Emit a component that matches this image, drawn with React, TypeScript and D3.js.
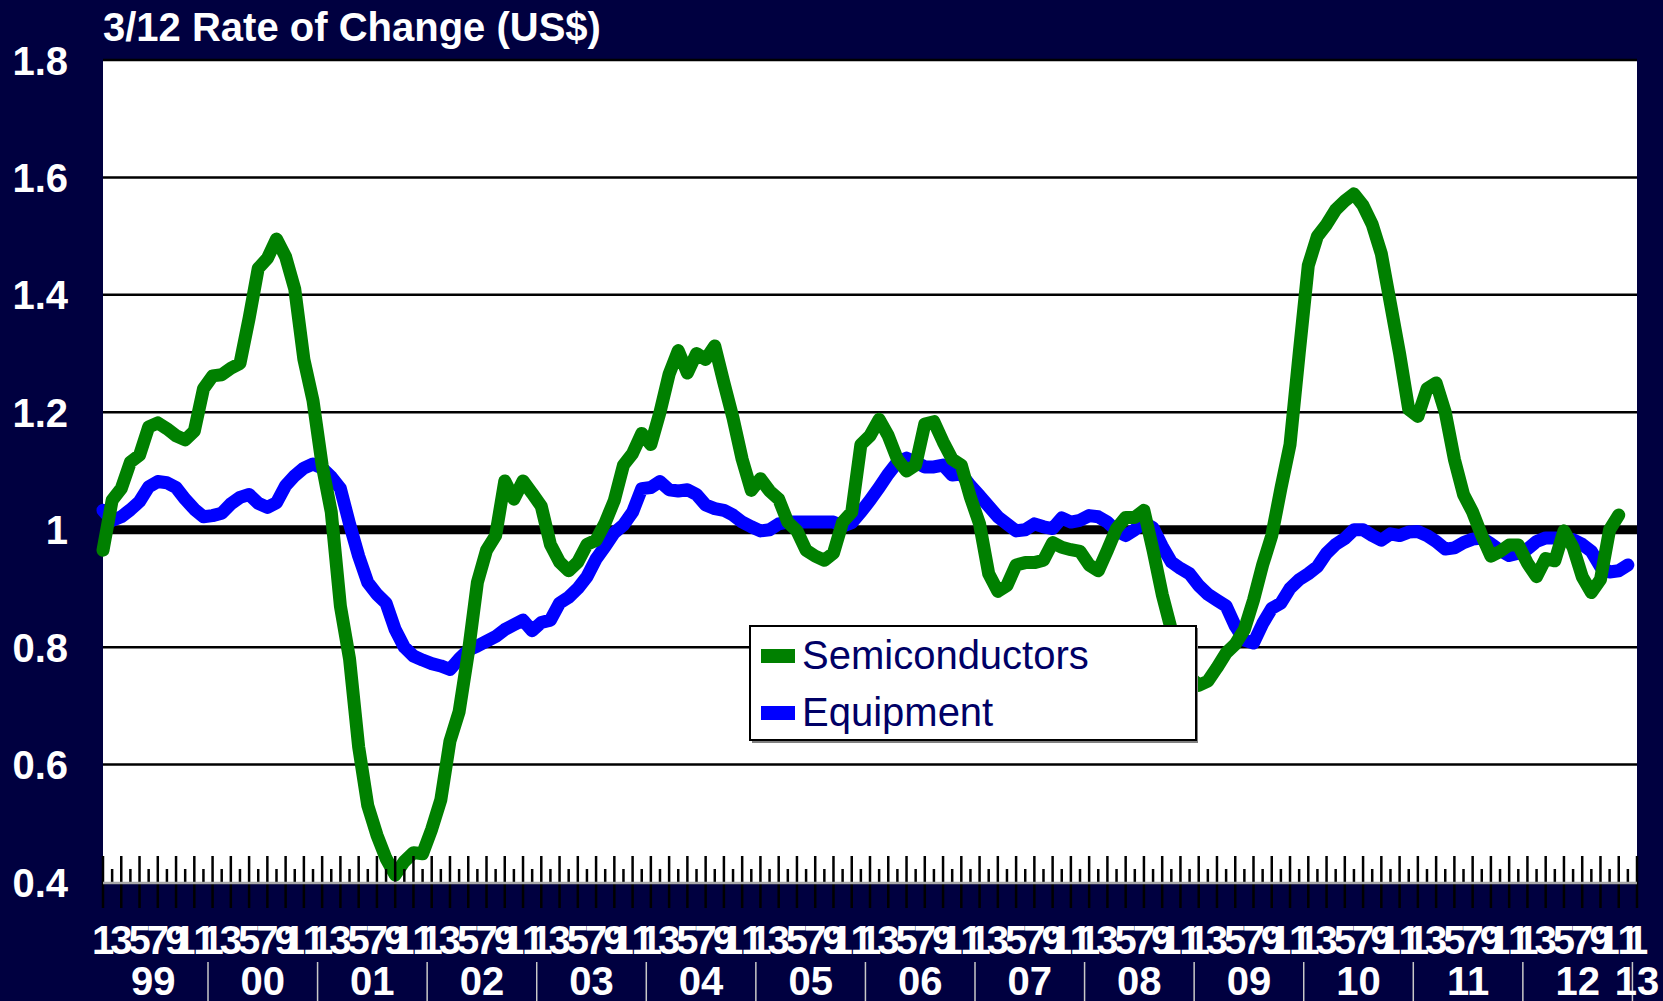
import React from "react";
import * as d3 from "d3";

const years = ["99", "00", "01", "02", "03", "04", "05", "06", "07", "08", "09", "10", "11", "12", "13"];
const monthNumbers = ["1", "2", "3", "4", "5", "6", "7", "8", "9", "10", "11", "12"];
const monthTickLabels = ["1", "3", "5", "7", "9", "11"];
const yTicks = [0.4, 0.6, 0.8, 1.0, 1.2, 1.4, 1.6, 1.8];
const yTickLabels = ["0.4", "0.6", "0.8", "1", "1.2", "1.4", "1.6", "1.8"];
const seriesNames = ["Semiconductors", "Equipment"];
const seriesColors = ["#008000", "#0000FF"];

// Jan 1999 .. Jan 2013
const categories = years.flatMap((y) => monthNumbers.map((m) => `${m}/${y}`)).slice(0, 169);

const semiconductors = [
  0.965, 1.05, 1.07, 1.115, 1.127, 1.175, 1.182, 1.172, 1.16, 1.153,
  1.168, 1.24, 1.262, 1.264, 1.275, 1.283, 1.36, 1.445, 1.462, 1.495,
  1.465, 1.41, 1.29, 1.22, 1.11, 1.03, 0.87, 0.78, 0.63, 0.53,
  0.48, 0.44, 0.412, 0.435, 0.45, 0.448, 0.49, 0.54, 0.64, 0.69,
  0.79, 0.91, 0.965, 0.99, 1.083, 1.052, 1.083, 1.062, 1.04, 0.975,
  0.945, 0.93, 0.945, 0.975, 0.982, 1.012, 1.05, 1.11, 1.13, 1.164,
  1.145, 1.2, 1.265, 1.305, 1.267, 1.3, 1.29, 1.313, 1.25, 1.19,
  1.12, 1.067, 1.087, 1.066, 1.052, 1.013, 0.998, 0.965, 0.955, 0.948,
  0.96, 1.013, 1.03, 1.145, 1.16, 1.188, 1.16, 1.12, 1.1, 1.11,
  1.18, 1.184, 1.15, 1.12, 1.11, 1.055, 1.01, 0.925, 0.895, 0.905,
  0.94, 0.944, 0.944, 0.948, 0.978, 0.97, 0.966, 0.963, 0.94, 0.93,
  0.965, 1.002, 1.021, 1.021, 1.033, 0.965, 0.89, 0.83, 0.78, 0.75,
  0.735, 0.742, 0.765, 0.79, 0.805, 0.83, 0.88, 0.94, 0.99, 1.07,
  1.145, 1.3, 1.45, 1.5, 1.52, 1.545, 1.56, 1.572, 1.552, 1.52,
  1.47, 1.385, 1.3, 1.205, 1.193, 1.24, 1.25, 1.2, 1.12, 1.06,
  1.03, 0.99, 0.955, 0.963, 0.974, 0.974, 0.943, 0.92, 0.951, 0.947,
  0.998, 0.97, 0.92, 0.893, 0.915, 1.0, 1.025,
];

const equipment = [
  1.033, 1.016, 1.022, 1.034, 1.048, 1.073, 1.082, 1.08, 1.072, 1.052,
  1.035, 1.022, 1.024, 1.028, 1.044, 1.055, 1.06, 1.045, 1.038, 1.046,
  1.075, 1.092, 1.105, 1.112, 1.105, 1.09, 1.07, 1.01, 0.955, 0.91,
  0.89, 0.875, 0.83, 0.8, 0.785, 0.778, 0.772, 0.768, 0.762, 0.78,
  0.795, 0.802, 0.81, 0.818, 0.83, 0.838, 0.846, 0.828, 0.842, 0.846,
  0.875, 0.885, 0.9, 0.92, 0.95, 0.972, 0.995, 1.008, 1.03, 1.07,
  1.072, 1.082, 1.068, 1.066, 1.068, 1.06, 1.042, 1.036, 1.033, 1.025,
  1.013, 1.005, 0.998, 1.0, 1.01, 1.013, 1.013, 1.013, 1.013, 1.013,
  1.013, 1.006, 1.012, 1.03, 1.05, 1.072, 1.095, 1.115, 1.122, 1.115,
  1.107, 1.107, 1.11, 1.093, 1.095, 1.075, 1.058, 1.04, 1.022, 1.01,
  0.998, 1.0, 1.01, 1.005, 1.002, 1.02, 1.013, 1.016, 1.024, 1.022,
  1.013, 0.998, 0.99, 1.0, 1.012, 1.003, 0.972, 0.945, 0.934, 0.925,
  0.905, 0.89, 0.88, 0.87, 0.836, 0.812, 0.807, 0.84, 0.866, 0.875,
  0.9, 0.915, 0.925, 0.937, 0.96, 0.975, 0.985, 1.0, 1.0, 0.99,
  0.982, 0.993, 0.99, 0.996, 0.997, 0.99, 0.98, 0.967, 0.969, 0.978,
  0.984, 0.986, 0.976, 0.965, 0.956, 0.96, 0.967, 0.98, 0.986, 0.986,
  0.985, 0.983, 0.975, 0.963, 0.937, 0.928, 0.93, 0.94,
];

const W = 1663;
const H = 1001;
const BG = "#000040";
const FONT = "'Liberation Sans', Arial, Helvetica, sans-serif";

export default function App() {
  const plotL = 103;
  const plotR = 1637;
  const plotT = 60;
  const plotB = 882;

  const x = d3.scalePoint<number>().domain(d3.range(categories.length)).range([plotL, plotR]);
  const y = d3.scaleLinear().domain([0.4, 1.8]).range([plotB, plotT]);

  const line = d3
    .line<number>()
    .x((_, i) => x(i) as number)
    .y((d) => y(d));

  const idx = d3.range(categories.length);

  const groups = years.map((yr, j) => {
    const first = j * 12;
    const last = Math.min(j * 12 + 11, categories.length - 1);
    return { yr, cx: ((x(first) as number) + (x(last) as number)) / 2 };
  });
  const separators = years.slice(0, -1).map((_, j) => {
    const a = j * 12 + 11;
    return ((x(a) as number) + (x(a + 1) as number)) / 2;
  });

  return (
    <svg
      width={W}
      height={H}
      style={{ position: "absolute", left: 0, top: 0, display: "block" }}
      fontFamily={FONT}
    >
      <rect x={0} y={0} width={W} height={H} fill={BG} />
      <text x={103} y={41} fill="#fff" fontSize={40} fontWeight="bold">
        3/12 Rate of Change (US$)
      </text>

      <rect x={plotL} y={plotT} width={plotR - plotL} height={plotB - plotT} fill="#fff" />

      {yTicks.map((t) =>
        t === 0.4 || t === 1.0 ? null : (
          <line key={t} x1={plotL} x2={plotR} y1={y(t)} y2={y(t)} stroke="#000" strokeWidth={2.5} />
        )
      )}
      <line x1={plotL} x2={plotR} y1={y(1.0)} y2={y(1.0)} stroke="#000" strokeWidth={9} />

      {yTicks.map((t, i) => (
        <text
          key={"yl" + t}
          x={68}
          y={y(t) + 14.5}
          fill="#fff"
          fontSize={40}
          fontWeight="bold"
          textAnchor="end"
        >
          {yTickLabels[i]}
        </text>
      ))}

      <path
        d={line(equipment) || ""}
        fill="none"
        stroke={seriesColors[1]}
        strokeWidth={13}
        strokeLinejoin="round"
        strokeLinecap="round"
      />
      <path
        d={line(semiconductors) || ""}
        fill="none"
        stroke={seriesColors[0]}
        strokeWidth={13}
        strokeLinejoin="round"
        strokeLinecap="round"
      />

      {idx.map((k) => {
        const xx = x(k) as number;
        return k % 2 === 0 ? (
          <line key={"t" + k} x1={xx} x2={xx} y1={plotB - 26} y2={plotB + 26} stroke="#000" strokeWidth={2.5} />
        ) : (
          <line key={"t" + k} x1={xx} x2={xx} y1={plotB - 13} y2={plotB} stroke="#000" strokeWidth={2.5} />
        );
      })}
      <line x1={plotL} x2={plotR} y1={plotB + 1} y2={plotB + 1} stroke="#a8a8a8" strokeWidth={2.5} />

      {idx
        .filter((k) => k % 2 === 0)
        .map((k) => (
          <text
            key={"m" + k}
            x={x(k) as number}
            y={954}
            fill="#fff"
            fontSize={40}
            fontWeight="bold"
            textAnchor="middle"
          >
            {monthTickLabels[(k % 12) / 2]}
          </text>
        ))}

      {separators.map((sx, j) => (
        <line key={"s" + j} x1={sx} x2={sx} y1={962} y2={H} stroke="#c8c8c8" strokeWidth={1.5} />
      ))}
      {groups.map((g) => (
        <text key={"y" + g.yr} x={g.cx} y={995} fill="#fff" fontSize={40} fontWeight="bold" textAnchor="middle">
          {g.yr}
        </text>
      ))}

      <rect x={752} y={628} width={446} height={115} fill="#808080" />
      <rect x={750} y={626} width={446} height={114} fill="#fff" stroke="#000" strokeWidth={2} />
      {seriesNames.map((name, i) => (
        <g key={name}>
          <rect x={761} y={649 + i * 57} width={34} height={14} fill={seriesColors[i]} />
          <text x={802} y={669 + i * 57} fill="#000066" fontSize={40}>
            {name}
          </text>
        </g>
      ))}
    </svg>
  );
}
